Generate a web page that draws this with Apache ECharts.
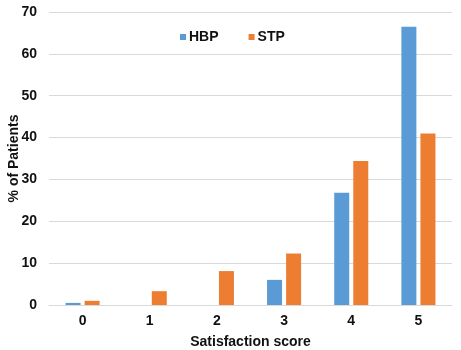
<!DOCTYPE html>
<html>
<head>
<meta charset="utf-8">
<script src="https://cdn.jsdelivr.net/npm/echarts@6/dist/echarts.min.js"></script>
<style>
html,body{margin:0;padding:0;background:#fff;}
#chart{width:461px;height:350px;}
</style>
</head>
<body>
<div id="chart"></div>
<script>
// Satisfaction scores and the share of patients per score
const categories = ['0', '1', '2', '3', '4', '5'];
const hbpValues = [0.5, 0, 0, 6.0, 26.8, 66.5];
const stpValues = [1.0, 3.3, 8.1, 12.3, 34.4, 41.0];
const yTicks = { min: 0, max: 70, interval: 10 };

const chart = echarts.init(document.getElementById('chart'));
const font = 'Liberation Sans, Arial, sans-serif';
const textColor = '#111';
chart.setOption({
  animation: false,
  grid: { left: 49, right: 9, top: 12, bottom: 45, containLabel: false, outerBoundsMode: 'none' },
  legend: {
    top: 25,
    left: 175,
    itemWidth: 6,
    itemHeight: 6,
    itemGap: 30,
    icon: 'rect',
    textStyle: { fontFamily: font, fontWeight: 'bold', fontSize: 14, color: textColor, padding: [0, 0, 0, -2] },
    data: ['HBP', 'STP']
  },
  xAxis: {
    type: 'category',
    data: categories,
    name: 'Satisfaction score',
    nameLocation: 'middle',
    nameGap: 30,
    nameMoveOverlap: false,
    nameTextStyle: { fontFamily: font, fontWeight: 'bold', fontSize: 14, color: textColor },
    axisLine: { show: true, lineStyle: { color: '#d9d9d9' } },
    axisTick: { show: false },
    axisLabel: { fontFamily: font, fontWeight: 'bold', fontSize: 14, color: textColor, margin: 9 }
  },
  yAxis: {
    type: 'value',
    min: yTicks.min,
    max: yTicks.max,
    interval: yTicks.interval,
    name: '% of Patients',
    nameLocation: 'middle',
    nameGap: 28,
    nameMoveOverlap: false,
    nameTextStyle: { fontFamily: font, fontWeight: 'bold', fontSize: 14, color: textColor },
    axisLine: { show: false },
    axisTick: { show: false },
    splitLine: { lineStyle: { color: '#d9d9d9' } },
    axisLabel: { fontFamily: font, fontWeight: 'bold', fontSize: 14, color: textColor, margin: 12 }
  },
  series: [
    {
      name: 'HBP', type: 'bar', data: hbpValues,
      barWidth: 15, barGap: '27%',
      itemStyle: { color: '#5B9BD5' }
    },
    {
      name: 'STP', type: 'bar', data: stpValues,
      barWidth: 15,
      itemStyle: { color: '#ED7D31' }
    }
  ]
});
</script>
</body>
</html>
